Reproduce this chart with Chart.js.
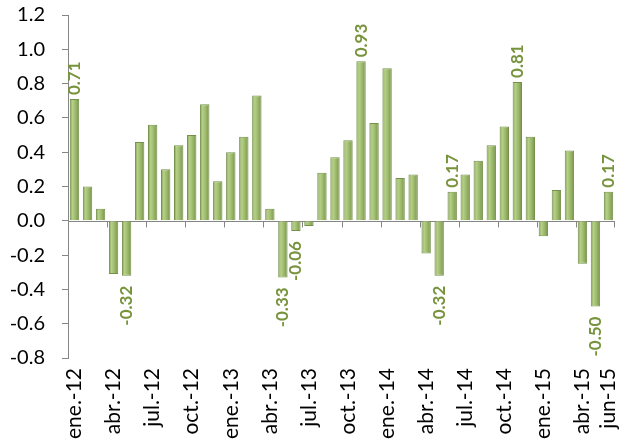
<!DOCTYPE html>
<html>
<head>
<meta charset="utf-8">
<script src="https://cdn.jsdelivr.net/npm/chart.js@4/dist/chart.umd.min.js"></script>
<style>
  html, body { margin: 0; padding: 0; background: #fff; }
  #wrap { width: 628px; height: 442px; }
</style>
</head>
<body>
<div id="wrap"><canvas id="varChart"></canvas></div>
<script>
// monthly values, ene-12 .. jun-15
const months = [
  'ene.-12', 'feb.-12', 'mar.-12', 'abr.-12', 'may.-12', 'jun.-12', 'jul.-12', 'ago.-12', 'sep.-12', 'oct.-12', 'nov.-12', 'dic.-12',
  'ene.-13', 'feb.-13', 'mar.-13', 'abr.-13', 'may.-13', 'jun.-13', 'jul.-13', 'ago.-13', 'sep.-13', 'oct.-13', 'nov.-13', 'dic.-13',
  'ene.-14', 'feb.-14', 'mar.-14', 'abr.-14', 'may.-14', 'jun.-14', 'jul.-14', 'ago.-14', 'sep.-14', 'oct.-14', 'nov.-14', 'dic.-14',
  'ene.-15', 'feb.-15', 'mar.-15', 'abr.-15', 'may.-15', 'jun-15'
];
const values = [
  0.71, 0.20, 0.07, -0.31, -0.32, 0.46, 0.56, 0.30, 0.44, 0.50, 0.68, 0.23,
  0.40, 0.49, 0.73, 0.07, -0.33, -0.06, -0.03, 0.28, 0.37, 0.47, 0.93, 0.57,
  0.89, 0.25, 0.27, -0.19, -0.32, 0.17, 0.27, 0.35, 0.44, 0.55, 0.81, 0.49,
  -0.09, 0.18, 0.41, -0.25, -0.50, 0.17
];
// bars that carry a value label
const labelled = [0, 4, 16, 17, 22, 28, 29, 34, 40, 41];
const yTicks = { min: -0.8, max: 1.2, step: 0.2 };

const axisGrey = '#868686';
const labelGreen = '#77933C';
const barPct = 0.72;

// shaded fill per bar (lighter left-of-centre, darker edges)
const barShade = {
  id: 'barShade',
  beforeDatasetsDraw(chart) {
    const ctx = chart.ctx;
    chart.getDatasetMeta(0).data.forEach(bar => {
      const w = bar.width;
      const g = ctx.createLinearGradient(bar.x - w / 2, 0, bar.x + w / 2, 0);
      g.addColorStop(0, '#7f9c52');
      g.addColorStop(0.28, '#b6d088');
      g.addColorStop(0.6, '#9dba6b');
      g.addColorStop(1, '#76914b');
      bar.options = Object.assign({}, bar.options, { backgroundColor: g });
    });
  }
};

// zero line + tick marks on it every 3 months
const zeroAxis = {
  id: 'zeroAxis',
  beforeDatasetsDraw(chart) {
    const { ctx, chartArea, scales } = chart;
    const y0 = Math.round(scales.y.getPixelForValue(0)) + 0.5;
    const half = scales.x.width / months.length / 2;
    ctx.save();
    ctx.strokeStyle = axisGrey;
    ctx.lineWidth = 1;
    ctx.beginPath();
    ctx.moveTo(chartArea.left, y0);
    ctx.lineTo(chartArea.right, y0);
    for (let i = 3; i < months.length; i += 3) {
      const bx = Math.round(scales.x.getPixelForValue(i) - half) + 0.5;
      ctx.moveTo(bx, y0);
      ctx.lineTo(bx, y0 + 6);
    }
    const endX = Math.round(chartArea.right) - 0.5;
    ctx.moveTo(endX, y0);
    ctx.lineTo(endX, y0 + 6);
    ctx.stroke();
    ctx.restore();
  }
};

const valueLabels = {
  id: 'valueLabels',
  afterDatasetsDraw(chart) {
    const ctx = chart.ctx;
    const meta = chart.getDatasetMeta(0);
    ctx.save();
    ctx.fillStyle = labelGreen;
    ctx.font = 'bold 17px Lato';
    ctx.textBaseline = 'middle';
    labelled.forEach(i => {
      const bar = meta.data[i];
      const v = values[i];
      ctx.save();
      ctx.translate(bar.x, v >= 0 ? bar.y - 4 : bar.y + 10);
      ctx.rotate(-Math.PI / 2);
      ctx.textAlign = v >= 0 ? 'left' : 'right';
      ctx.fillText(v.toFixed(2), 0, 0);
      ctx.restore();
    });
    ctx.restore();
  }
};

new Chart(document.getElementById('varChart'), {
  type: 'bar',
  data: {
    labels: months,
    datasets: [{
      data: values,
      backgroundColor: '#a3bf72',
      borderColor: '#74904a',
      borderWidth: 1,
      barPercentage: barPct,
      categoryPercentage: 1
    }]
  },
  options: {
    responsive: true,
    maintainAspectRatio: false,
    animation: false,
    layout: { padding: { left: 10, right: 13, top: 15, bottom: 0 } },
    plugins: { legend: { display: false }, tooltip: { enabled: false } },
    scales: {
      x: {
        grid: { display: false, drawTicks: false },
        border: { display: false },
        ticks: {
          autoSkip: false,
          minRotation: 90,
          maxRotation: 90,
          padding: 10,
          color: '#000',
          font: { family: 'Lato', size: 21 },
          callback: (v, i) => (i % 3 === 0 || i === months.length - 1) ? months[i] : ''
        },
        afterFit: s => { s.height = 84; s.paddingLeft = 0; s.paddingRight = 0; }
      },
      y: {
        min: yTicks.min,
        max: yTicks.max,
        ticks: {
          stepSize: yTicks.step,
          padding: 17,
          color: '#000',
          font: { family: 'Lato', size: 20 },
          callback: v => Math.abs(v) < 1e-9 ? '0.0' : v.toFixed(1)
        },
        grid: { drawOnChartArea: false, drawTicks: true, tickLength: 6, color: axisGrey },
        border: { display: true, color: axisGrey },
        afterFit: s => { s.width = 58; s.paddingTop = 0; s.paddingBottom = 0; }
      }
    }
  },
  plugins: [barShade, zeroAxis, valueLabels]
});
</script>
</body>
</html>
